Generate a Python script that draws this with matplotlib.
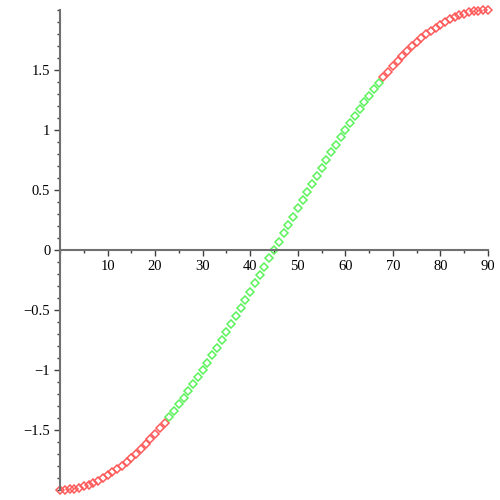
import matplotlib
matplotlib.use("Agg")
import matplotlib.pyplot as plt
from matplotlib.ticker import MultipleLocator, FixedLocator

x_vals = list(range(0, 91))
y_vals = [
    -2.000, -1.999, -1.995, -1.989, -1.981, -1.970, -1.956, -1.941, -1.923, -1.902,
    -1.879, -1.854, -1.827, -1.798, -1.766, -1.732, -1.696, -1.658, -1.618, -1.576,
    -1.532, -1.486, -1.439, -1.389, -1.338, -1.286, -1.231, -1.176, -1.118, -1.060,
    -1.000, -0.939, -0.877, -0.813, -0.749, -0.684, -0.618, -0.551, -0.484, -0.416,
    -0.347, -0.278, -0.209, -0.140, -0.070, 0.000,
    0.070, 0.140, 0.209, 0.278, 0.347, 0.416, 0.484, 0.551, 0.618, 0.684,
    0.749, 0.813, 0.877, 0.939, 1.000, 1.060, 1.118, 1.176, 1.231, 1.286,
    1.338, 1.389, 1.439, 1.486, 1.532, 1.576, 1.618, 1.658, 1.696, 1.732,
    1.766, 1.798, 1.827, 1.854, 1.879, 1.902, 1.923, 1.941, 1.956, 1.970,
    1.981, 1.989, 1.995, 1.999, 2.000,
]
# segment membership: 'r' outer parts, 'g' middle part
seg_flags = ['r'] * 23 + ['g'] * 45 + ['r'] * 23

x_ticks = [10, 20, 30, 40, 50, 60, 70, 80, 90]
y_ticks = [-1.5, -1, -0.5, 0, 0.5, 1, 1.5]
y_tick_labels = ["\u22121.5", "\u22121", "\u22120.5", "0", "0.5", "1", "1.5"]

RED = "#ff5a5a"
GREEN = "#5cf25c"

fig = plt.figure(figsize=(5, 5), dpi=100)
ax = fig.add_axes([0.12, 0.02, 0.856, 0.96])

for flag, col in (('r', RED), ('g', GREEN)):
    xs = [x for x, f in zip(x_vals, seg_flags) if f == flag]
    ys = [y for y, f in zip(y_vals, seg_flags) if f == flag]
    ax.plot(xs, ys, linestyle='none', marker='D', markersize=3.8,
            markerfacecolor='none', markeredgecolor=col, markeredgewidth=1.1,
            clip_on=False)

ax.set_xlim(0, 90)
ax.set_ylim(-2, 2)

for s in ('top', 'right'):
    ax.spines[s].set_visible(False)
ax.spines['bottom'].set_position(('data', 0))
ax.spines['left'].set_position(('data', 0))
for s in ('bottom', 'left'):
    ax.spines[s].set_color('#707070')
    ax.spines[s].set_linewidth(1.5)

ax.xaxis.set_major_locator(FixedLocator(x_ticks))
ax.xaxis.set_minor_locator(MultipleLocator(5))
ax.yaxis.set_major_locator(FixedLocator(y_ticks))
ax.set_yticklabels(y_tick_labels)
ax.yaxis.set_minor_locator(MultipleLocator(0.1))

font = dict(family='Liberation Serif', size=10)
for lab in ax.get_xticklabels() + ax.get_yticklabels():
    lab.set_fontfamily('Liberation Serif')
    lab.set_fontsize(10.5)
    lab.set_color('black')

ax.tick_params(which='major', direction='out', length=4, width=1, color='#404040', pad=3)
ax.tick_params(which='minor', direction='out', length=2.5, width=1, color='#404040')

fig.savefig("out.png", dpi=100)
